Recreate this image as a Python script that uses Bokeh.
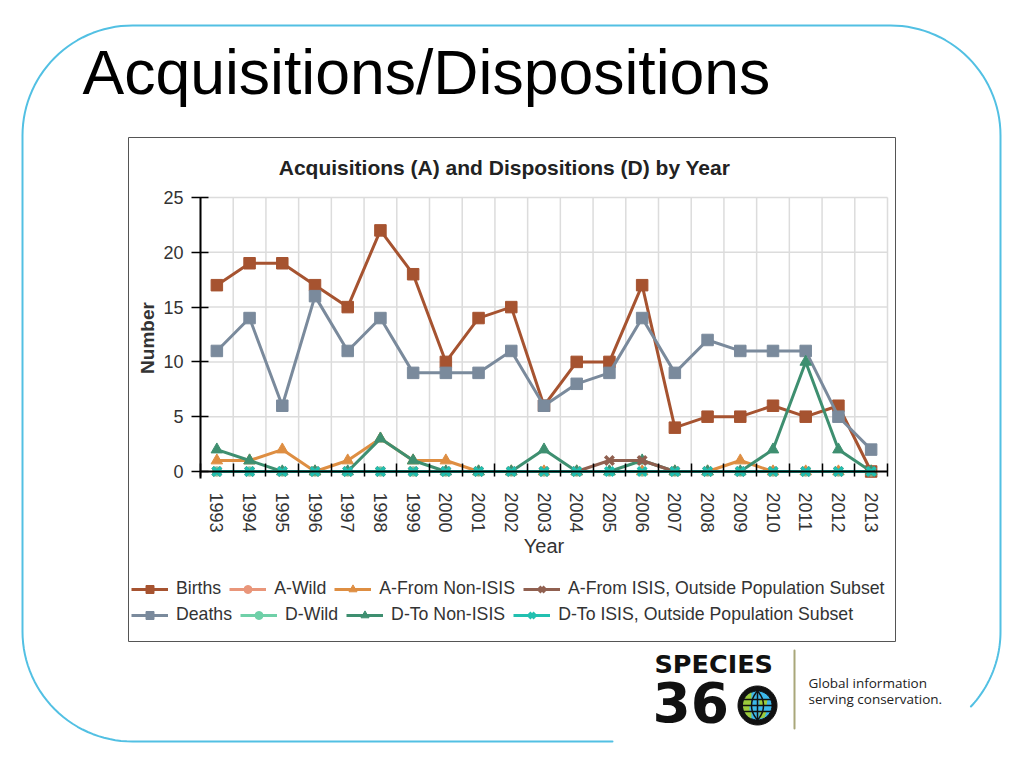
import math
from bokeh.plotting import figure
from bokeh.models import Range1d, FixedTicker, Label, PolyAnnotation, Legend, LegendItem
from bokeh.embed import file_html
from bokeh.resources import INLINE

# ---------------- data ----------------
years = [1993, 1994, 1995, 1996, 1997, 1998, 1999, 2000, 2001, 2002, 2003,
         2004, 2005, 2006, 2007, 2008, 2009, 2010, 2011, 2012, 2013]
births = [17, 19, 19, 17, 15, 22, 18, 10, 14, 15, 6, 10, 10, 17, 4, 5, 5, 6, 5, 6, 0]
deaths = [11, 14, 6, 16, 11, 14, 9, 9, 9, 11, 6, 8, 9, 14, 9, 12, 11, 11, 11, 5, 2]
a_wild = [0, 0, 0, 0, 0, 0, 0, 0, 0, 0, 0, 0, 0, 0, 0, 0, 0, 0, 0, 0, 0]
d_wild = [0, 0, 0, 0, 0, 0, 0, 0, 0, 0, 0, 0, 0, 0, 0, 0, 0, 0, 0, 0, 0]
a_non_isis = [1, 1, 2, 0, 1, 3, 1, 1, 0, 0, 0, 0, 0, 0, 0, 0, 1, 0, 0, 0, 0]
d_non_isis = [2, 1, 0, 0, 0, 3, 1, 0, 0, 0, 2, 0, 0, 1, 0, 0, 0, 2, 10, 2, 0]
a_isis_outside = [0, 0, 0, 0, 0, 0, 0, 0, 0, 0, 0, 0, 1, 1, 0, 0, 0, 0, 0, 0, 0]
d_isis_outside = [0, 0, 0, 0, 0, 0, 0, 0, 0, 0, 0, 0, 0, 0, 0, 0, 0, 0, 0, 0, 0]
y_ticks = [0, 5, 10, 15, 20, 25]
y_max = 25

series = [
    ("Births", births, "#a65330", "square"),
    ("Deaths", deaths, "#7a8a9c", "square"),
    ("A-Wild", a_wild, "#e9967a", "circle"),
    ("D-Wild", d_wild, "#6fd0a8", "circle"),
    ("A-From Non-ISIS", a_non_isis, "#de8e42", "triangle"),
    ("D-To Non-ISIS", d_non_isis, "#3e8f70", "triangle"),
    ("A-From ISIS, Outside Population Subset", a_isis_outside, "#906050", "x"),
    ("D-To ISIS, Outside Population Subset", d_isis_outside, "#22c0b0", "x"),
]
row1 = ["Births", "A-Wild", "A-From Non-ISIS", "A-From ISIS, Outside Population Subset"]
row2 = ["Deaths", "D-Wild", "D-To Non-ISIS", "D-To ISIS, Outside Population Subset"]

FONT = "Liberation Sans"

# page geometry: the frame fills the whole canvas; the chart area sits inside it
W, H = 1024, 768
PX_L, PX_R = 200, 887      # page x of first / last category boundary
PY_0, PY_TOP = 471, 197    # page y of value 0 / value y_max

x_lo, x_hi = years[0] - 0.5, years[-1] + 0.5
kx = (PX_R - PX_L) / (x_hi - x_lo)
ky = (PY_0 - PY_TOP) / y_max
x_range = Range1d(x_lo - PX_L / kx, x_hi + (W - PX_R) / kx)
y_range = Range1d((PY_0 - H) / ky, PY_0 / ky)

p = figure(width=W, height=H, output_backend="svg", toolbar_location=None,
           x_range=x_range, y_range=y_range,
           min_border=0, min_border_left=0, min_border_right=0,
           min_border_top=0, min_border_bottom=0)
p.outline_line_color = None
p.background_fill_color = "white"
p.border_fill_color = "white"
p.xgrid.visible = False
p.ygrid.visible = False

boundaries = [y - 0.5 for y in years] + [years[-1] + 0.5]
y_bottom = -0.64

# grid lines of the chart area
p.segment(x0=boundaries, y0=[0] * len(boundaries), x1=boundaries,
          y1=[y_max] * len(boundaries), line_color="#dcdcdc", line_width=1.5)
p.segment(x0=[x_lo] * len(y_ticks), y0=y_ticks, x1=[x_hi] * len(y_ticks),
          y1=y_ticks, line_color="#dcdcdc", line_width=1.5)

# x axis
xa = p.xaxis[0]
xa.ticker = FixedTicker(ticks=years, minor_ticks=boundaries)
xa.fixed_location = 0
xa.bounds = (x_lo, x_hi)
xa.major_tick_in = 0
xa.major_tick_out = 0
xa.minor_tick_in = 8
xa.minor_tick_out = 5
xa.minor_tick_line_color = "black"
xa.minor_tick_line_width = 1.5
xa.axis_line_color = "black"
xa.axis_line_width = 2
xa.major_label_orientation = -math.pi / 2
xa.major_label_standoff = 16
xa.major_label_text_font = FONT
xa.major_label_text_font_size = "18px"
xa.major_label_text_color = "#333333"
xa.axis_label = "Year"
xa.axis_label_text_font = FONT
xa.axis_label_text_font_size = "20px"
xa.axis_label_text_font_style = "normal"
xa.axis_label_text_color = "#333333"
xa.axis_label_standoff = -1

# y axis
ya = p.yaxis[0]
ya.ticker = FixedTicker(ticks=y_ticks, minor_ticks=[])
ya.fixed_location = x_lo
ya.bounds = (y_bottom, y_max)
ya.major_tick_in = 8
ya.major_tick_out = 9
ya.major_tick_line_width = 1.5
ya.axis_line_color = "black"
ya.axis_line_width = 2
ya.major_label_standoff = 8
ya.major_label_text_font = FONT
ya.major_label_text_font_size = "18px"
ya.major_label_text_color = "#333333"
ya.axis_label = "Number"
ya.axis_label_text_font = FONT
ya.axis_label_text_font_size = "19px"
ya.axis_label_text_font_style = "bold"
ya.axis_label_text_color = "#333333"
ya.axis_label_standoff = 2

rend = {}
for name, vals, color, marker in series:
    lr = p.line(years, vals, line_color=color, line_width=3)
    if marker == "x":
        sr = p.scatter(years, vals, marker="x", size=12, line_color=color, line_width=3.5)
    elif marker == "circle":
        sr = p.scatter(years, vals, marker="circle", size=9, fill_color=color, line_color=color)
    else:
        sr = p.scatter(years, vals, marker=marker, size=11.5, fill_color=color, line_color=color)
    rend[name] = [lr, sr]


def sx(x):
    return x


def sy(y):
    return H - y


for i, row in enumerate([row1, row2]):
    items = [LegendItem(label=n, renderers=rend[n]) for n in row]
    cy = 589 + 26 * i
    leg = Legend(items=items, orientation="horizontal",
                 location=(sx(131), sy(cy + 10)),
                 background_fill_alpha=0, border_line_alpha=0,
                 padding=0, margin=0, spacing=8,
                 glyph_width=37, glyph_height=20, label_standoff=8,
                 label_height=20,
                 label_text_font=FONT, label_text_font_size="17.7px",
                 label_text_color="#333333")
    p.add_layout(leg)


def poly(pts, fill_color=None, fill_alpha=0.0, line_color=None, line_alpha=1.0, **kw):
    xs = [sx(x) for x, _ in pts]
    ys = [sy(y) for _, y in pts]
    a = PolyAnnotation(xs=xs, ys=ys, xs_units="screen", ys_units="screen",
                       fill_color=fill_color, fill_alpha=fill_alpha,
                       line_color=line_color, line_alpha=line_alpha, **kw)
    p.add_layout(a)
    return a


def arc(cx, cy, r, a0, a1, n=30):
    out = []
    for k in range(n + 1):
        a = math.radians(a0 + (a1 - a0) * k / n)
        out.append((cx + r * math.cos(a), cy + r * math.sin(a)))
    return out


def open_path(pts, color, width):
    poly(pts + pts[::-1], line_color=color, line_width=width, line_join="round")


def text(x, y, s, font, size, style="normal", color="#222222", align="left"):
    # y is the page y of the text baseline
    p.add_layout(Label(x=sx(x), y=sy(y - 0.37 * size), x_units="screen", y_units="screen",
                       text=s, text_font=font, text_font_size=f"{size}px",
                       text_font_style=style, text_color=color,
                       text_baseline="alphabetic", text_align=align))


# slide rounded border (open on the lower right)
R = 110
border = [(612, 741)]
border += arc(132, 631, R, 90, 180)
border += arc(132, 135, R, 180, 270)
border += arc(890, 135, R, 270, 360)
border += arc(890, 631, R, 0, 43)
open_path(border, "#52c0e3", 2)

# chart box
poly([(128, 137), (895, 137), (895, 641), (128, 641)],
     line_color="#555555", line_width=1)

# titles
text(82, 95, "Acquisitions/Dispositions", FONT, 62.5, color="black")
text(504, 175, "Acquisitions (A) and Dispositions (D) by Year", FONT, 21,
     style="bold", color="#222222", align="center")

# logo
text(654, 673, "SPECIES", "DejaVu Sans", 25.5, style="bold", color="#111111")
text(652, 722, "36", "DejaVu Sans", 55, style="bold", color="#111111")
gcx, gcy = 757, 705
poly(arc(gcx, gcy, 19.5, 0, 360, 48), line_color="#111111", line_width=1,
     fill_color="#111111", fill_alpha=1)
poly(arc(gcx, gcy, 14.5, 0, 360, 48), line_color="#111111", line_width=1,
     fill_color="#3db8ea", fill_alpha=1)
poly(arc(gcx, gcy, 14.5, 115, 245, 20), line_alpha=0, fill_color="#9ccb3b", fill_alpha=1)
poly([(gcx + 2, gcy - 6), (gcx + 10, gcy - 6), (gcx + 9, gcy), (gcx + 2, gcy)],
     line_alpha=0, fill_color="#9ccb3b", fill_alpha=1)
poly([(gcx - 8, gcy), (gcx, gcy), (gcx, gcy + 6), (gcx - 8, gcy + 6)],
     line_alpha=0, fill_color="#3db8ea", fill_alpha=1)
poly([(gcx + 2, gcy + 6), (gcx + 9, gcy + 6), (gcx + 7, gcy + 12), (gcx + 2, gcy + 13)],
     line_alpha=0, fill_color="#9ccb3b", fill_alpha=1)
for dy in (-6, 0, 6):
    hw = math.sqrt(14.5 ** 2 - dy ** 2)
    open_path([(gcx - hw, gcy + dy), (gcx + hw, gcy + dy)], "#111111", 1.5)
open_path(arc(gcx + 14, gcy, 20, 135, 225, 12), "#111111", 1.5)
open_path(arc(gcx - 14, gcy, 20, -45, 45, 12), "#111111", 1.5)
open_path([(gcx, gcy - 14.5), (gcx, gcy + 14.5)], "#111111", 1.5)

open_path([(794, 650), (794, 728)], "#a9a77a", 2)
text(808, 687, "Global information", "Open Sans", 13.5, color="#222222")
text(808, 703, "serving conservation.", "Open Sans", 13.5, color="#222222")

open("out.html", "w").write(file_html(p, INLINE))
